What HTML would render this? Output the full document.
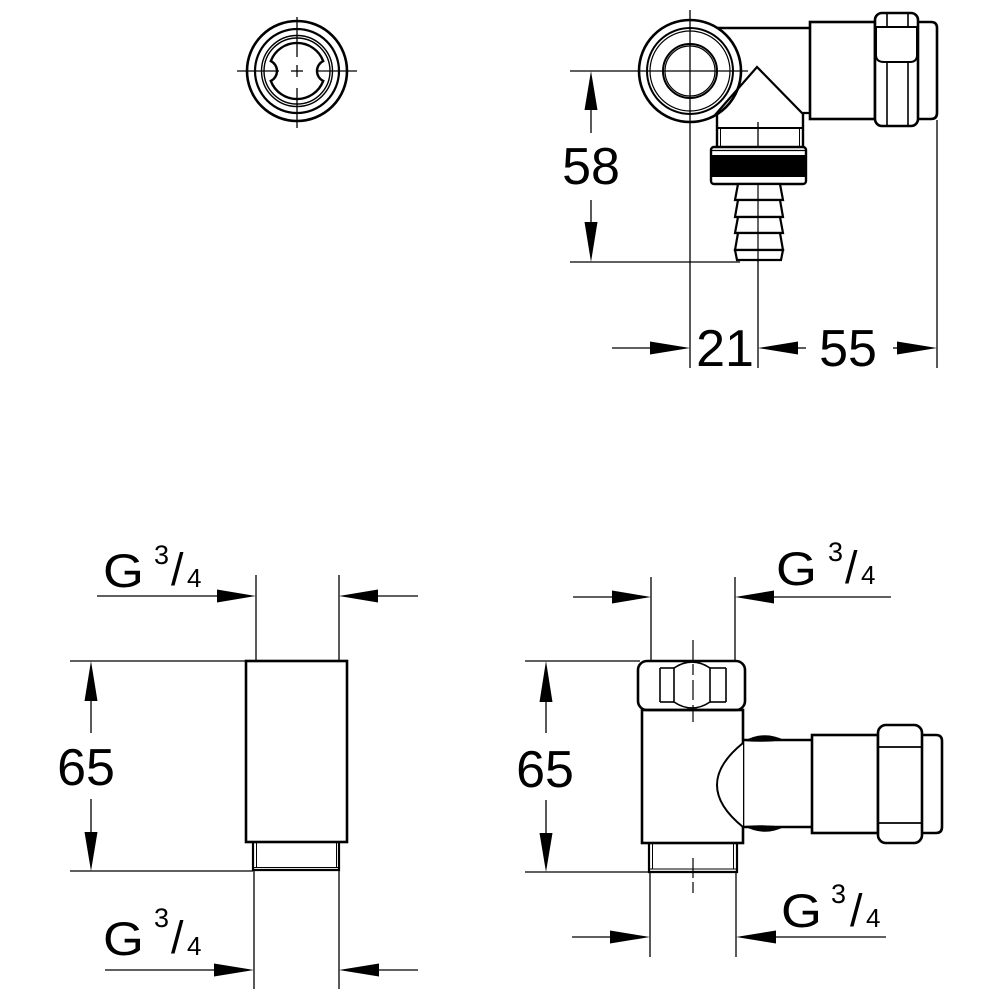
<!DOCTYPE html>
<html>
<head>
<meta charset="utf-8">
<style>
  html,body{margin:0;padding:0;background:#fff;}
  svg{display:block;}
  text{font-family:"Liberation Sans", Arial, sans-serif;fill:#000;}
</style>
</head>
<body>
<svg width="1000" height="1000" viewBox="0 0 1000 1000" xmlns="http://www.w3.org/2000/svg">
<rect width="1000" height="1000" fill="#fff"/>

<!-- ============ TOP-LEFT: circle view ============ -->
<g fill="none" stroke="#000">
  <circle cx="297" cy="71" r="50" stroke-width="2.6"/>
  <circle cx="297" cy="71" r="42" stroke-width="2.2"/>
  <circle cx="297" cy="71" r="35.5" stroke-width="1.4"/>
  <circle cx="297" cy="71" r="33" stroke-width="1.4"/>
  <path d="M270.8 61.1 A28 28 0 0 1 323.2 61.1 A11 11 0 0 0 323.2 80.9 A28 28 0 0 1 270.8 80.9 A11 11 0 0 0 270.8 61.1 Z" stroke-width="2.4"/>
  <g stroke-width="1.3">
    <line x1="237" y1="71" x2="279" y2="71"/>
    <line x1="291" y1="71" x2="303" y2="71"/>
    <line x1="316" y1="71" x2="357" y2="71"/>
    <line x1="297" y1="17" x2="297" y2="57"/>
    <line x1="297" y1="65" x2="297" y2="77"/>
    <line x1="297" y1="88" x2="297" y2="128"/>
  </g>
</g>

<!-- ============ TOP-RIGHT: valve top view ============ -->
<g fill="none" stroke="#000">
  <!-- extension / center lines -->
  <g stroke-width="1.3">
    <line x1="690" y1="10" x2="690" y2="368"/>
    <line x1="758" y1="122" x2="758" y2="368"/>
    <line x1="937" y1="120" x2="937" y2="368"/>
    <line x1="570" y1="71" x2="748" y2="71"/>
    <line x1="570" y1="262" x2="740" y2="262"/>
  </g>
  <!-- circle -->
  <circle cx="690" cy="71" r="51" stroke-width="2.6" fill="#fff"/>
  <circle cx="690" cy="71" r="43" stroke-width="2"/>
  <circle cx="690" cy="71" r="40" stroke-width="1.2"/>
  <circle cx="690" cy="71" r="27" stroke-width="2"/>
  <circle cx="690" cy="71" r="25" stroke-width="1.2"/>
  <line x1="640" y1="71" x2="740" y2="71" stroke-width="1.3"/>
  <line x1="690" y1="20" x2="690" y2="122" stroke-width="1.3"/>
  <!-- body top line -->
  <line x1="718" y1="28" x2="810" y2="28" stroke-width="2.6"/>
  <!-- cone -->
  <polyline points="715,115 757,67 802,113 810,113" stroke-width="2.2"/>
  <!-- neck -->
  <line x1="717" y1="113" x2="717" y2="147" stroke-width="2.4"/>
  <line x1="803" y1="113" x2="803" y2="147" stroke-width="2.4"/>
  <line x1="717" y1="128" x2="803" y2="128" stroke-width="2"/>
  <line x1="720.5" y1="128" x2="720.5" y2="147" stroke-width="1"/>
  <line x1="799.5" y1="128" x2="799.5" y2="147" stroke-width="1"/>
  <!-- ring -->
  <rect x="711" y="147" width="95" height="37" rx="3" stroke-width="2.4" fill="#fff"/>
  <rect x="711" y="155" width="95" height="22" fill="#000" stroke="none"/>
  <line x1="711" y1="150.5" x2="806" y2="150.5" stroke-width="1.2"/>
  <!-- hose barb -->
  <g stroke-width="2.2" fill="#fff">
    <polygon points="738,184 780,184 783,200 735,200"/>
    <polygon points="738,200 780,200 783,217 735,217"/>
    <polygon points="738,217 780,217 783,233 735,233"/>
    <polygon points="738,233 780,233 783,250 735,250"/>
    <polygon points="735,250 783,250 781,260 737,260"/>
  </g>
  <line x1="758" y1="184" x2="758" y2="262" stroke-width="1.2"/>
  <!-- right side -->
  <rect x="810" y="22" width="65" height="97" stroke-width="2.6" fill="#fff"/>
  <path d="M918 22 H931 Q937 22 937 28 V113 Q937 119 931 119 H918" stroke-width="2.6"/>
  <rect x="875" y="13" width="43" height="113" rx="7" stroke-width="2.6" fill="#fff"/>
  <path d="M876 27 H917 V55 Q917 62 910 62 H884 Q876 62 876 55 Z" stroke-width="2"/>
  <g stroke-width="1.6">
    <line x1="887" y1="13" x2="887" y2="27"/>
    <line x1="908" y1="13" x2="908" y2="27"/>
    <line x1="887" y1="62" x2="887" y2="126"/>
    <line x1="908" y1="62" x2="908" y2="126"/>
  </g>
</g>

<!-- top-right dimensions -->
<g stroke="#000" stroke-width="1.3">
  <!-- 58 -->
  <line x1="591" y1="110" x2="591" y2="133"/>
  <line x1="591" y1="200" x2="591" y2="222"/>
  <!-- 21 / 55 -->
  <line x1="612" y1="348" x2="650" y2="348"/>
  <line x1="798" y1="348" x2="806" y2="348"/>
  <line x1="893" y1="348" x2="897" y2="348"/>
</g>
<g fill="#000">
  <polygon points="591,71 584.5,110 597.5,110"/>
  <polygon points="591,262 584.5,222 597.5,222"/>
  <polygon points="690,348 650,341.5 650,354.5"/>
  <polygon points="758,348 798,341.5 798,354.5"/>
  <polygon points="937,348 897,341.5 897,354.5"/>
</g>
<text x="591" y="184" font-size="52" text-anchor="middle">58</text>
<text x="725" y="366" font-size="52" text-anchor="middle">21</text>
<text x="848" y="366" font-size="52" text-anchor="middle">55</text>

<!-- ============ BOTTOM-LEFT: extension piece ============ -->
<g fill="none" stroke="#000">
  <g stroke-width="1.3">
    <line x1="256" y1="575" x2="256" y2="661"/>
    <line x1="339" y1="575" x2="339" y2="661"/>
    <line x1="70" y1="661" x2="246" y2="661"/>
    <line x1="70" y1="871" x2="253" y2="871"/>
    <line x1="254" y1="871" x2="254" y2="989"/>
    <line x1="339" y1="870" x2="339" y2="989"/>
    <line x1="97" y1="596" x2="217" y2="596"/>
    <line x1="378" y1="596" x2="418" y2="596"/>
    <line x1="91" y1="701" x2="91" y2="733"/>
    <line x1="91" y1="799" x2="91" y2="832"/>
    <line x1="105" y1="970" x2="214" y2="970"/>
    <line x1="379" y1="970" x2="418" y2="970"/>
  </g>
  <rect x="246" y="661" width="101" height="181" stroke-width="2.6"/>
  <path d="M253 842 V870 H339 V842" stroke-width="2.2"/>
  <line x1="256.5" y1="842" x2="256.5" y2="868" stroke-width="1"/>
  <line x1="336.5" y1="842" x2="336.5" y2="868" stroke-width="1"/>
  <line x1="253" y1="867.5" x2="339" y2="867.5" stroke-width="1"/>
</g>
<g fill="#000">
  <polygon points="256,596 217,589.5 217,602.5"/>
  <polygon points="339,596 378,589.5 378,602.5"/>
  <polygon points="91,661 84.5,701 97.5,701"/>
  <polygon points="91,871 84.5,832 97.5,832"/>
  <polygon points="254,970 214,963.5 214,976.5"/>
  <polygon points="339,970 379,963.5 379,976.5"/>
</g>
<text x="86" y="785" font-size="52" text-anchor="middle">65</text>
<!-- G 3/4 labels -->
<g>
  <text transform="translate(103,587) scale(1.12,1)" font-size="47">G</text>
  <text x="154" y="564" font-size="27">3</text>
  <text x="171" y="585" font-size="45">/</text>
  <text x="187" y="587" font-size="26">4</text>
</g>
<g>
  <text transform="translate(103,955) scale(1.12,1)" font-size="47">G</text>
  <text x="154" y="927" font-size="27">3</text>
  <text x="171" y="953" font-size="45">/</text>
  <text x="187" y="955" font-size="26">4</text>
</g>

<!-- ============ BOTTOM-RIGHT: valve side view ============ -->
<g fill="none" stroke="#000">
  <g stroke-width="1.3">
    <line x1="651" y1="577" x2="651" y2="661"/>
    <line x1="735" y1="577" x2="735" y2="661"/>
    <line x1="525" y1="661" x2="640" y2="661"/>
    <line x1="525" y1="872" x2="650" y2="872"/>
    <line x1="650" y1="872" x2="650" y2="957"/>
    <line x1="736" y1="872" x2="736" y2="957"/>
    <line x1="573" y1="597" x2="612" y2="597"/>
    <line x1="774" y1="597" x2="891" y2="597"/>
    <line x1="546" y1="702" x2="546" y2="733"/>
    <line x1="546" y1="800" x2="546" y2="833"/>
    <line x1="572" y1="937" x2="610" y2="937"/>
    <line x1="776" y1="937" x2="886" y2="937"/>
  </g>
  <!-- hex nut top -->
  <rect x="638" y="661" width="107" height="49" rx="9" stroke-width="2.6" fill="#fff"/>
  <g stroke-width="1.6">
    <line x1="660" y1="668" x2="660" y2="702"/>
    <line x1="674" y1="668" x2="674" y2="702"/>
    <line x1="710" y1="668" x2="710" y2="702"/>
    <line x1="726" y1="668" x2="726" y2="702"/>
    <line x1="660" y1="668" x2="674" y2="668"/>
    <line x1="660" y1="702" x2="674" y2="702"/>
    <line x1="710" y1="668" x2="726" y2="668"/>
    <line x1="710" y1="702" x2="726" y2="702"/>
    <path d="M674 668 Q692 656 710 668"/>
    <path d="M674 702 Q692 714 710 702"/>
  </g>
  <!-- body -->
  <rect x="642" y="710" width="101" height="133" stroke-width="2.6"/>
  <!-- thread -->
  <path d="M649 843 V872 H737 V843" stroke-width="2.2"/>
  <line x1="652.5" y1="843" x2="652.5" y2="869" stroke-width="1"/>
  <line x1="733.5" y1="843" x2="733.5" y2="869" stroke-width="1"/>
  <line x1="649" y1="869" x2="737" y2="869" stroke-width="1"/>
  <!-- centerlines -->
  <g stroke-width="1.2">
    <line x1="693" y1="640" x2="693" y2="660"/>
    <line x1="693" y1="664" x2="693" y2="675"/>
    <line x1="693" y1="680" x2="693" y2="700"/>
    <line x1="693" y1="705" x2="693" y2="722"/>
    <line x1="693" y1="858" x2="693" y2="878"/>
    <line x1="693" y1="882" x2="693" y2="893"/>
  </g>
  <!-- side pipe -->
  <line x1="743" y1="740" x2="812" y2="740" stroke-width="2.4"/>
  <line x1="743" y1="827" x2="812" y2="827" stroke-width="2.4"/>
  <path d="M743 743 Q691 785 743 827" stroke-width="2" fill="#fff"/>
  <!-- box, nut, cap -->
  <rect x="812" y="735" width="66" height="98" stroke-width="2.6" fill="#fff"/>
  <path d="M922 735 H936 Q942 735 942 741 V827 Q942 833 936 833 H922" stroke-width="2.6"/>
  <rect x="878" y="725" width="44" height="118" rx="8" stroke-width="2.6" fill="#fff"/>
  <line x1="878" y1="747" x2="922" y2="747" stroke-width="1.8"/>
  <line x1="878" y1="823" x2="922" y2="823" stroke-width="1.8"/>
</g>
<g fill="#000">
  <path d="M744 741 Q764 730 784 740 Q764 743 744 741 Z"/>
  <path d="M744 826 Q764 837 784 827 Q764 824 744 826 Z"/>
  <polygon points="651,597 612,590.5 612,603.5"/>
  <polygon points="735,597 774,590.5 774,603.5"/>
  <polygon points="546,661 539.5,702 552.5,702"/>
  <polygon points="546,872 539.5,833 552.5,833"/>
  <polygon points="650,937 610,930.5 610,943.5"/>
  <polygon points="736,937 776,930.5 776,943.5"/>
</g>
<text x="545" y="787" font-size="52" text-anchor="middle">65</text>
<g>
  <text transform="translate(776,585) scale(1.12,1)" font-size="47">G</text>
  <text x="828" y="561" font-size="27">3</text>
  <text x="845" y="583" font-size="45">/</text>
  <text x="861" y="584" font-size="26">4</text>
</g>
<g>
  <text transform="translate(781,927) scale(1.12,1)" font-size="47">G</text>
  <text x="831" y="903" font-size="27">3</text>
  <text x="850" y="926" font-size="45">/</text>
  <text x="866" y="927" font-size="26">4</text>
</g>

</svg>
</body>
</html>
